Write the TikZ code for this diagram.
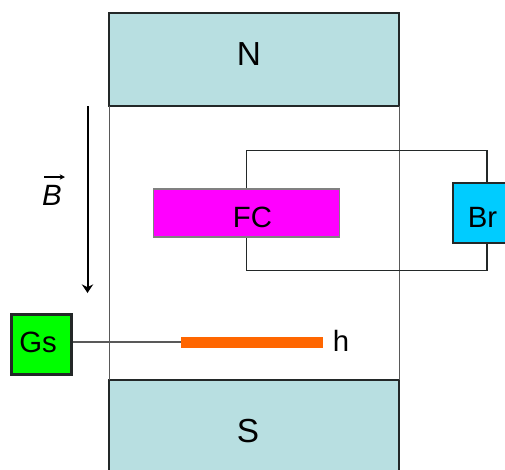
\documentclass[tikz,border=0pt]{standalone}
\usepackage{fontspec}
\setmainfont{Liberation Sans}
\definecolor{pole}{RGB}{184,223,225}
\definecolor{fcc}{RGB}{255,0,255}
\definecolor{brc}{RGB}{0,204,255}
\definecolor{gsc}{RGB}{0,255,0}
\definecolor{hc}{RGB}{255,102,0}
\definecolor{edgec}{RGB}{35,40,40}
\usetikzlibrary{arrows.meta}
\tikzset{
  x=0.75pt,y=-0.75pt,
  polebox/.style={draw=edgec,line width=1.8pt,fill=pole,inner sep=0pt},
  smallbox/.style={draw=edgec,line width=1.6pt,inner sep=0pt},
  fcbox/.style={draw=black!50,line width=0.8pt,fill=fcc,inner sep=0pt},
  lbl/.style={inner sep=0pt,font=\fontsize{22}{22}\selectfont},
  polelbl/.style={inner sep=0pt,font=\fontsize{25}{25}\selectfont},
  guide/.style={draw=black!65,line width=1pt},
  wire/.style={draw=edgec,line width=1.4pt},
}
\begin{document}
\begin{tikzpicture}
\useasboundingbox (0,0) rectangle (505,469);
\clip (0,0) rectangle (505,469);
\coordinate (wtl) at (246.5,150.5);
\coordinate (wtr) at (487,150.5);
\coordinate (wbl) at (246.5,270.5);
\coordinate (wbr) at (487,270.5);
\coordinate (bstart) at (87.5,106);
\coordinate (bend) at (87.5,293);
\coordinate (vecl) at (44,177);
\coordinate (vecr) at (65,177);
\node[polebox,minimum width=217.5pt,minimum height=69.75pt] (N) at (254,59.5) {};
\node[polebox,minimum width=217.5pt,minimum height=69.75pt] (S) at (254,426.5) {};
\node[polelbl] (Nlabel) at (249,54) {N};
\node[polelbl] (Slabel) at (248,431.5) {S};
\draw[guide] (109.5,106) -- (109.5,380);
\draw[guide] (399.5,106) -- (399.5,380);
\node[smallbox,fill=brc,minimum width=42.75pt,minimum height=45pt] (Br) at (481.5,213) {};
\node[smallbox,fill=gsc,minimum width=45pt,minimum height=45pt] (Gs) at (41.5,344.5) {};
\draw[wire] (Br.north -| wtr) -- (wtr) -- (wtl) -- (wtl |- 189,189);
\draw[wire] (Br.south -| wbr) -- (wbr) -- (wbl) -- (wbl |- 237,237);
\node[fcbox,minimum width=139.5pt,minimum height=36pt] (FC) at (246.5,213) {};
\node[lbl] (FClabel) at (252.5,217) {FC};
\node[lbl] (Brlabel) at (482.5,217) {Br};
\node[lbl] (Gslabel) at (38,342.5) {Gs};
\node[fill=hc,inner sep=0pt,minimum width=106.5pt,minimum height=8.25pt] (H) at (252,342) {};
\draw[guide] (Gs.east |- H.west) -- (H.west);
\node[lbl] (hlabel) at (341,341) {h};
\draw[draw=black,line width=1.5pt,-{Stealth[length=6.5pt,width=8.5pt]}] (bstart) -- (bend);
\node[inner sep=0pt,font=\itshape\fontsize{22}{22}\selectfont] (Blabel) at (52,195) {B};
\draw[draw=black,line width=0.8pt,-{Stealth[length=4pt,width=4pt]}] (vecl) -- (vecr);
\end{tikzpicture}
\end{document}
